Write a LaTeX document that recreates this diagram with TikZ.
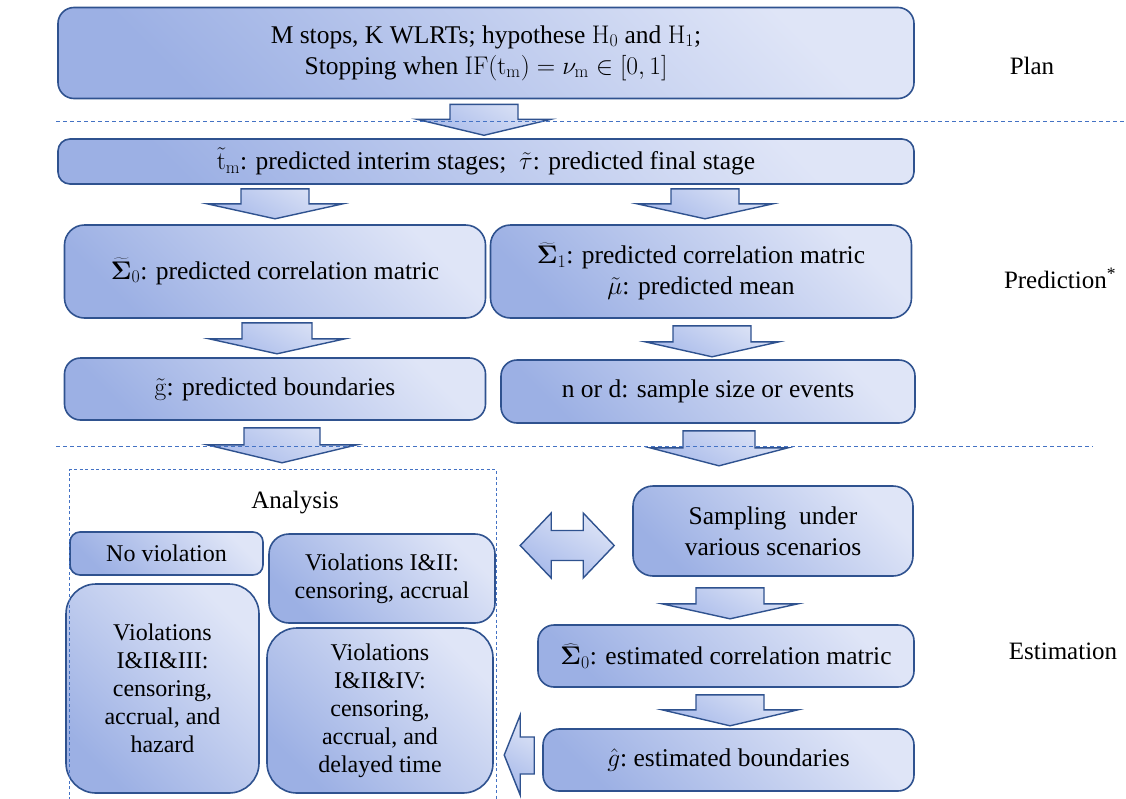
\RequirePackage{fix-cm}
\documentclass[tikz,border=0pt]{standalone}
\usepackage[no-math]{fontspec}
\setmainfont{Liberation Serif}
\usetikzlibrary{calc}
\definecolor{bordc}{RGB}{47,82,143}
\definecolor{boxlight}{RGB}{223,229,247}
\definecolor{boxdark}{RGB}{156,176,228}
\definecolor{arrlight}{RGB}{220,227,246}
\definecolor{arrdark}{RGB}{168,186,234}
\definecolor{sepc}{RGB}{68,114,196}
\begin{document}
\begin{tikzpicture}[x=1pt,y=-1pt,
  box/.style={draw=bordc, line width=1.6pt, rounded corners=16pt,
    top color=boxlight, bottom color=boxdark, shading angle=-45,
    align=center, inner sep=0pt, font=\fontsize{25.5}{31}\selectfont},
  sbox/.style={box, font=\fontsize{24}{28}\selectfont},
  arrowsty/.style={draw=bordc, line width=1.4pt, line join=miter,
    top color=arrlight, bottom color=arrdark, shading angle=-30},
  sepline/.style={draw=sepc, line width=0.9pt, dash pattern=on 4pt off 3pt},
  framesty/.style={draw=sepc, line width=0.8pt, dash pattern=on 3pt off 2.5pt},
  lbl/.style={font=\fontsize{25}{30}\selectfont, inner sep=0pt},
  pics/darr/.style n args={4}{code={
    \path[arrowsty] (-#1,0) -- (#1,0) -- (#1,#3) -- (#2,#3) -- (0,{#3+#4})
      -- (-#2,#3) -- (-#1,#3) -- cycle;}},
  pics/lrarr/.style={code={
    \path[arrowsty] (-47,0) -- (-16,-32.5) -- (-16,-15) -- (16,-15) -- (16,-32.5)
      -- (47,0) -- (16,32.5) -- (16,15) -- (-16,15) -- (-16,32.5) -- cycle;}},
  pics/larr/.style={code={
    \path[arrowsty] (0,0) -- (16,-40) -- (16,-18) -- (30,-18) -- (30,19)
      -- (16,19) -- (16,40) -- cycle;}}
]
\useasboundingbox (0,0) rectangle (1126,798);

% Plan
\node[box, minimum width=856pt, minimum height=91pt] (plan) at (486,53)
  {M stops, K WLRTs; hypothese $\mathrm{H_0}$ and $\mathrm{H_1}$;\\
   Stopping when $\mathrm{IF(t_m)} = \nu_{\mathrm{m}} \in [0,1]$};

% Prediction
\node[box, rounded corners=12pt, minimum width=856pt, minimum height=45pt] (stage) at (486,161.5)
  {$\tilde{\mathrm{t}}_{\mathrm{m}}$: predicted interim stages;\ \ $\tilde{\tau}$: predicted final stage};
\node[box, rounded corners=20pt, minimum width=421pt, minimum height=93pt] (s0) at (275,271.5)
  {$\widetilde{\mathbf{\Sigma}}_0$: predicted correlation matric};
\node[box, rounded corners=20pt, minimum width=421pt, minimum height=93pt] (s1) at (701,271.5)
  {$\widetilde{\mathbf{\Sigma}}_1$: predicted correlation matric\\ $\tilde{\mu}$: predicted mean};
\node[box, minimum width=421pt, minimum height=62pt] (gb) at (275,389)
  {$\tilde{\mathrm{g}}$: predicted boundaries};
\node[box, minimum width=414pt, minimum height=63pt] (nd) at (708,391.5)
  {n or d: sample size or events};

% Estimation
\node[box, rounded corners=20pt, minimum width=280pt, minimum height=90pt] (samp) at (773,531)
  {Sampling\ \ under\\ various scenarios};
\node[box, minimum width=376pt, minimum height=62pt] (est) at (726,656)
  {$\widehat{\mathbf{\Sigma}}_0$: estimated correlation matric};
\node[box, minimum width=371pt, minimum height=62pt] (ghat) at (728.5,760)
  {$\hat{g}$:\ estimated boundaries};

% Analysis
\node[lbl] (ana) at (295,503) {Analysis};
\node[sbox, rounded corners=10pt, minimum width=193pt, minimum height=43pt] (nov) at (166.5,553.5)
  {No violation};
\node[sbox, rounded corners=20pt, minimum width=226pt, minimum height=89pt] (v12) at (382,578.5)
  {Violations I\&II:\\ censoring, accrual};
\node[sbox, rounded corners=30pt, minimum width=193pt, minimum height=209pt] (v123) at (162.5,688.5)
  {Violations\\ I\&II\&III:\\ censoring,\\ accrual, and\\ hazard};
\node[sbox, rounded corners=30pt, minimum width=226pt, minimum height=165pt] (v124) at (380,710.5)
  {Violations\\ I\&II\&IV:\\ censoring,\\ accrual, and\\ delayed time};

% side labels
\node[lbl] (lplan) at (1032,66) {Plan};
\node[lbl] (lpred) at (1060,278) {Prediction\textsuperscript{*}};
\node[lbl] (lest) at (1063,651) {Estimation};

% block arrows
\pic at ($(plan.south)+(-2,5)$) {darr={34}{67}{15}{16}};
\pic at ($(stage.south -| s0.north)+(0,4)$) {darr={34}{68}{15}{15}};
\pic at ($(stage.south -| s1.north)+(4,4)$) {darr={34}{68}{15}{15}};
\pic at ($(s0.south)+(2,4)$) {darr={35}{68}{16}{15}};
\pic at ($(s1.south)+(11,7)$) {darr={39}{67}{16}{15}};
\pic at ($(gb.south)+(7,7)$) {darr={38}{75}{17}{18}};
\pic at ($(nd.south)+(11,7)$) {darr={36}{69}{17}{18}};
\pic at ($(samp.south -| est.north)+(4,11)$) {darr={34}{68}{16}{15}};
\pic at ($(est.south)+(4,7)$) {darr={34}{68}{15}{16}};
\pic at ($(samp.west)+(-65,14.5)$) {lrarr};
\pic at ($(ghat.west)+(-38,-5)$) {larr};

% dashed frame and separators
\draw[framesty] (69,800) -- (69,469.5) -- (496,469.5) -- (496,800);
\draw[sepline] (56,121.5) -- (1126,121.5);
\draw[sepline] (56,446) -- (1093,446);
\end{tikzpicture}
\end{document}
